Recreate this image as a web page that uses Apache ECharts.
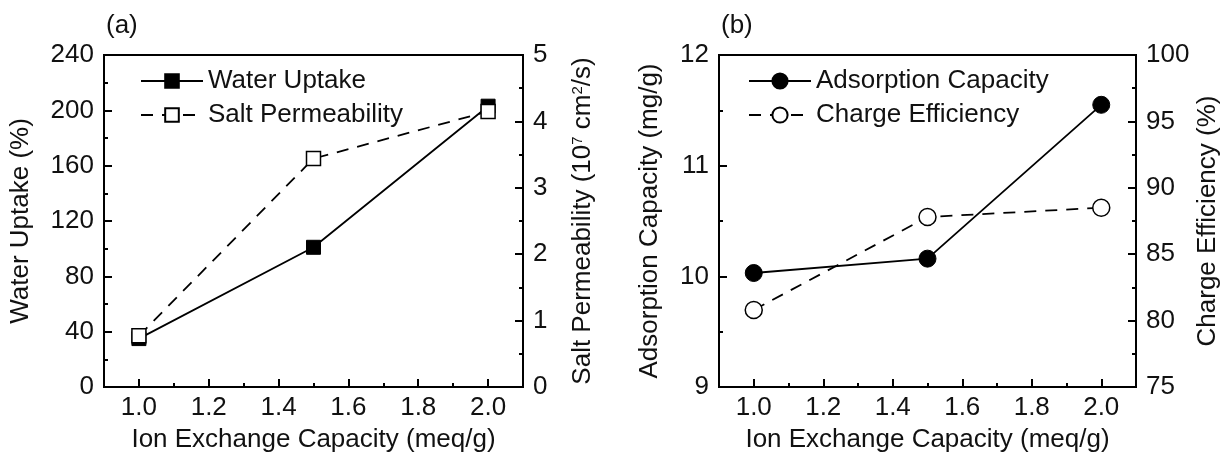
<!DOCTYPE html>
<html>
<head>
<meta charset="utf-8">
<script src="https://cdn.jsdelivr.net/npm/echarts@6/dist/echarts.min.js"></script>
<style>
  html, body { margin: 0; padding: 0; background: #fff; }
  #chart { width: 1222px; height: 458px; }
</style>
</head>
<body>
<div id="chart"></div>
<script>
// ion exchange capacity (meq/g)
const iec = [1.0, 1.5, 2.0]
// panel (a)
const waterUptake = [35, 101, 203]
const saltPermeability = [0.77, 3.44, 4.15]
// panel (b)
const adsorptionCapacity = [10.03, 10.16, 11.55]
const chargeEfficiency = [80.8, 87.8, 88.5]
// x ticks
const xTickLabels = [1.0, 1.2, 1.4, 1.6, 1.8, 2.0]
const xMinorTicks = [1.1, 1.3, 1.5, 1.7, 1.9]

const FONT = 'Liberation Sans, Arial, sans-serif'
const FS = 26
const ink = '#111'

function pairs(xs, ys) {
  return xs.map((x, i) => [x, ys[i]])
}

function mainX(grid) {
  return {
    gridIndex: grid, type: 'value', min: 0.9, max: 2.1, position: 'bottom',
    name: 'Ion Exchange Capacity (meq/g)', nameLocation: 'middle', nameGap: 40,
    nameTextStyle: { fontFamily: FONT, fontSize: FS, color: ink },
    axisLine: { show: true, lineStyle: { color: '#000', width: 2 } },
    axisTick: { show: true, inside: true, length: 8, customValues: xTickLabels, lineStyle: { color: '#000', width: 2 } },
    axisLabel: { customValues: xTickLabels, formatter: v => v.toFixed(1), margin: 8, fontFamily: FONT, fontSize: FS, color: ink },
    splitLine: { show: false }
  }
}
function minorX(grid) {
  return {
    gridIndex: grid, type: 'value', min: 0.9, max: 2.1, position: 'bottom',
    axisLine: { show: false },
    axisTick: { show: true, inside: true, length: 4, customValues: xMinorTicks, lineStyle: { color: '#000', width: 2 } },
    axisLabel: { show: false },
    splitLine: { show: false }
  }
}
function yAx(grid, pos, min, max, step, name, gap, rich) {
  return {
    gridIndex: grid, type: 'value', position: pos, min: min, max: max, interval: step,
    name: name, nameLocation: 'middle', nameGap: gap, nameRotate: 90,
    nameTextStyle: { fontFamily: FONT, fontSize: FS, color: ink, rich: rich },
    axisLine: { show: true, lineStyle: { color: '#000', width: 2 } },
    axisTick: { show: true, inside: true, length: 8, lineStyle: { color: '#000', width: 2 } },
    minorTick: { show: true, splitNumber: 2, length: 4, lineStyle: { color: '#000', width: 2 } },
    axisLabel: { margin: 10, fontFamily: FONT, fontSize: FS, color: ink },
    splitLine: { show: false }
  }
}

const chart = echarts.init(document.getElementById('chart'))

const option = {
  backgroundColor: '#fff',
  animation: false,
  title: [
    { text: '(a)', left: 101, top: 8, textStyle: { fontFamily: FONT, fontSize: FS, fontWeight: 'normal', color: ink } },
    { text: '(b)', left: 716, top: 8, textStyle: { fontFamily: FONT, fontSize: FS, fontWeight: 'normal', color: ink } }
  ],
  grid: [
    { left: 104, top: 55, width: 419, height: 337, show: true, borderColor: '#000', borderWidth: 2, backgroundColor: 'transparent' },
    { left: 719, top: 55, width: 419, height: 337, show: true, borderColor: '#000', borderWidth: 2, backgroundColor: 'transparent' }
  ],
  legend: [
    {
      data: ['Water Uptake', 'Salt Permeability'], orient: 'vertical', left: 135, top: 63,
      itemWidth: 62, itemHeight: 17, itemGap: 8,
      textStyle: { fontFamily: FONT, fontSize: FS, color: ink }
    },
    {
      data: ['Adsorption Capacity', 'Charge Efficiency'], orient: 'vertical', left: 743, top: 63,
      itemWidth: 62, itemHeight: 19, itemGap: 8,
      textStyle: { fontFamily: FONT, fontSize: FS, color: ink }
    }
  ],
  xAxis: [mainX(0), minorX(0), mainX(1), minorX(1)],
  yAxis: [
    yAx(0, 'left', 0, 240, 40, 'Water Uptake (%)', 70),
    yAx(0, 'right', 0, 5, 1, 'Salt Permeability (10{sup|7} cm{sup|2}/s)', 47,
      { sup: { fontFamily: FONT, fontSize: 15, color: ink, verticalAlign: 'top' } }),
    yAx(1, 'left', 9, 12, 1, 'Adsorption Capacity (mg/g)', 56),
    yAx(1, 'right', 75, 100, 5, 'Charge Efficiency (%)', 59)
  ],
  series: [
    {
      name: 'Water Uptake', type: 'line', xAxisIndex: 0, yAxisIndex: 0,
      data: pairs(iec, waterUptake),
      symbol: 'rect', symbolSize: 14,
      lineStyle: { color: '#000', width: 1.8 },
      itemStyle: { color: '#000', borderColor: '#000', borderWidth: 1 }
    },
    {
      name: 'Salt Permeability', type: 'line', xAxisIndex: 0, yAxisIndex: 1,
      data: pairs(iec, saltPermeability),
      symbol: 'rect', symbolSize: 14,
      lineStyle: { color: '#000', width: 1.8, type: [12, 9] },
      itemStyle: { color: '#fff', borderColor: '#000', borderWidth: 1.5 }
    },
    {
      name: 'Adsorption Capacity', type: 'line', xAxisIndex: 2, yAxisIndex: 2,
      data: pairs(iec, adsorptionCapacity),
      symbol: 'circle', symbolSize: 17,
      lineStyle: { color: '#000', width: 1.8 },
      itemStyle: { color: '#000', borderColor: '#000', borderWidth: 1 }
    },
    {
      name: 'Charge Efficiency', type: 'line', xAxisIndex: 2, yAxisIndex: 3,
      data: pairs(iec, chargeEfficiency),
      symbol: 'circle', symbolSize: 17,
      lineStyle: { color: '#000', width: 1.8, type: [12, 9] },
      itemStyle: { color: '#fff', borderColor: '#000', borderWidth: 1.5 }
    }
  ]
}

chart.setOption(option)
</script>
</body>
</html>
